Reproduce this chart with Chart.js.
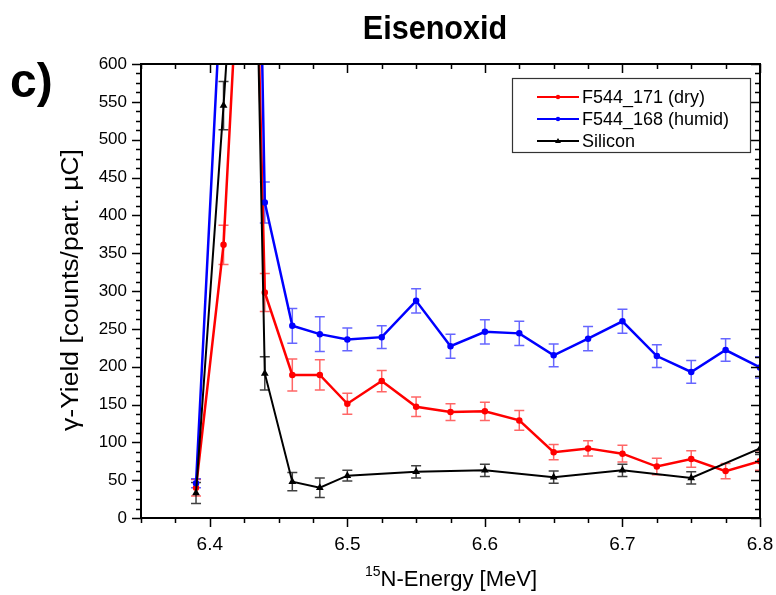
<!DOCTYPE html>
<html>
<head>
<meta charset="utf-8">
<script src="https://cdn.jsdelivr.net/npm/chart.js@4.4.1/dist/chart.umd.min.js"></script>
<style>
  html, body { margin: 0; padding: 0; background: #fff; }
  #wrap { width: 776px; height: 595px; }
</style>
</head>
<body>
<div id="wrap"><canvas id="yieldChart" width="776" height="595"></canvas></div>
<script>
// --- DATA ---
const dryEnergy = [6.39, 6.41, 6.43, 6.44, 6.46, 6.48, 6.50, 6.525, 6.55, 6.575, 6.60, 6.625, 6.65, 6.675, 6.70, 6.725, 6.75, 6.775, 6.80];
const dryYield  = [40, 361, 1050, 298, 189, 189, 151, 181, 147, 140, 141, 129, 87, 92, 85, 68, 78, 62, 75];
const dryErr    = [11, 26, 40, 25, 21, 20, 14, 14, 13, 11, 12, 13, 10, 10, 11, 11, 11, 10, 12];

const humidEnergy = [6.39, 6.41, 6.43, 6.44, 6.46, 6.48, 6.50, 6.525, 6.55, 6.575, 6.60, 6.625, 6.65, 6.675, 6.70, 6.725, 6.75, 6.775, 6.80];
const humidYield  = [46, 760, 1400, 417, 254, 243, 236, 239, 287, 227, 246, 244, 215, 237, 260, 214, 193, 222, 199];
const humidErr    = [6, 40, 60, 27, 23, 23, 15, 15, 16, 16, 16, 16, 15, 16, 16, 15, 15, 15, 14];

const siliconEnergy = [6.39, 6.41, 6.43, 6.44, 6.46, 6.48, 6.50, 6.55, 6.60, 6.65, 6.70, 6.75, 6.80];
const siliconYield  = [33, 545, 1100, 191, 48, 40, 56, 61, 63, 54, 63, 53, 92];
const siliconErr    = [14, 32, 40, 22, 12, 13, 7, 8, 8, 8, 8, 8, 8];

const seriesNames = ['F544_171 (dry)', 'F544_168 (humid)', 'Silicon'];
const xTicks = [6.4, 6.5, 6.6, 6.7, 6.8];
const yTicks = [0, 50, 100, 150, 200, 250, 300, 350, 400, 450, 500, 550, 600];
const xMinorStep = 0.025;
const yMinorStep = 12.5;

const FONT = '"Liberation Sans", Arial, Helvetica, sans-serif';

function toPoints(xs, ys) {
    return xs.map((x, i) => ({ x: x, y: ys[i] }));
}

// --- ERROR BARS, FRAME, TICKS, LABELS, LEGEND ---
const decorPlugin = {
    id: 'decor',
    beforeDatasetsDraw(chart) {
        const { ctx, chartArea: a, scales: { x, y } } = chart;
        const errs = [dryErr, humidErr, siliconErr];
        const cols = ['rgba(255,0,0,0.6)', 'rgba(0,0,255,0.6)', 'rgba(0,0,0,0.75)'];
        ctx.save();
        ctx.beginPath();
        ctx.rect(a.left, a.top, a.right - a.left, a.bottom - a.top);
        ctx.clip();
        chart.data.datasets.forEach((ds, di) => {
            ctx.strokeStyle = cols[di];
            ctx.lineWidth = 1.5;
            ds.data.forEach((p, i) => {
                const px = x.getPixelForValue(p.x);
                const top = y.getPixelForValue(p.y + errs[di][i]);
                const bot = y.getPixelForValue(p.y - errs[di][i]);
                ctx.beginPath();
                ctx.moveTo(px, top); ctx.lineTo(px, bot);
                ctx.moveTo(px - 5, top); ctx.lineTo(px + 5, top);
                ctx.moveTo(px - 5, bot); ctx.lineTo(px + 5, bot);
                ctx.stroke();
            });
        });
        ctx.restore();
    },
    afterDraw(chart) {
        const { ctx, chartArea: a, scales: { x, y } } = chart;
        ctx.save();

        // frame
        ctx.strokeStyle = '#000';
        ctx.lineWidth = 2;
        ctx.strokeRect(a.left, a.top, a.right - a.left, a.bottom - a.top);

        // ticks: outward on bottom/left, inward on top/right
        ctx.lineWidth = 1.5;
        ctx.beginPath();
        for (let v = x.min; v <= x.max + 1e-9; v += xMinorStep) {
            const major = xTicks.some(t => Math.abs(t - v) < 1e-6);
            const len = major ? 9 : 5;
            const px = Math.round(x.getPixelForValue(v)) + 0.5;
            ctx.moveTo(px, a.bottom); ctx.lineTo(px, a.bottom + len);
            ctx.moveTo(px, a.top); ctx.lineTo(px, a.top + len);
        }
        for (let v = y.min; v <= y.max + 1e-9; v += yMinorStep) {
            const major = yTicks.some(t => Math.abs(t - v) < 1e-6);
            const len = major ? 9 : 5;
            const py = Math.round(y.getPixelForValue(v)) + 0.5;
            ctx.moveTo(a.left, py); ctx.lineTo(a.left - len, py);
            ctx.moveTo(a.right, py); ctx.lineTo(a.right - len, py);
        }
        ctx.stroke();

        // title and panel letter
        ctx.fillStyle = '#000';
        ctx.textBaseline = 'alphabetic';
        ctx.save();
        ctx.translate(435, 39);
        ctx.scale(0.9, 1);
        ctx.font = 'bold 34px ' + FONT;
        ctx.textAlign = 'center';
        ctx.fillText('Eisenoxid', 0, 0);
        ctx.restore();

        ctx.font = 'bold 48px ' + FONT;
        ctx.textAlign = 'left';
        ctx.fillText('c)', 10, 97);

        // x axis title with superscript mass number
        const main = 'N-Energy [MeV]';
        ctx.font = '14px ' + FONT;
        const supW = ctx.measureText('15').width;
        ctx.font = '22px ' + FONT;
        const mainW = ctx.measureText(main).width;
        const startX = 451 - (supW + mainW) / 2;
        ctx.fillText(main, startX + supW, 586);
        ctx.font = '14px ' + FONT;
        ctx.fillText('15', startX, 576);

        // y axis title (slightly stretched along its run)
        ctx.save();
        ctx.translate(78, 290);
        ctx.rotate(-Math.PI / 2);
        ctx.scale(1.15, 1);
        ctx.font = '23px ' + FONT;
        ctx.textAlign = 'center';
        ctx.fillText('\u03b3-Yield [counts/part. \u00b5C]', 0, 0);
        ctx.restore();

        // legend
        const lx = 512, ly = 78, lw = 238, lh = 74;
        ctx.fillStyle = '#fff';
        ctx.fillRect(lx, ly, lw, lh);
        ctx.strokeStyle = '#333';
        ctx.lineWidth = 1.2;
        ctx.strokeRect(lx + 0.5, ly + 0.5, lw, lh);
        chart.data.datasets.forEach((ds, i) => {
            const ry = 97 + i * 22;
            ctx.strokeStyle = ds.borderColor;
            ctx.lineWidth = 2;
            ctx.beginPath();
            ctx.moveTo(537, ry); ctx.lineTo(579, ry);
            ctx.stroke();
            ctx.fillStyle = ds.borderColor;
            ctx.beginPath();
            if (ds.pointStyle === 'triangle') {
                ctx.moveTo(558, ry - 3); ctx.lineTo(561, ry + 2); ctx.lineTo(555, ry + 2);
                ctx.closePath();
            } else {
                ctx.arc(558, ry, 2.2, 0, Math.PI * 2);
            }
            ctx.fill();
            ctx.fillStyle = '#000';
            ctx.font = '18px ' + FONT;
            ctx.textAlign = 'left';
            ctx.textBaseline = 'middle';
            ctx.fillText(seriesNames[i], 582, ry + 1);
        });
        ctx.restore();
    }
};

// --- CHART ---
const chart = new Chart(document.getElementById('yieldChart'), {
    type: 'line',
    data: {
        datasets: [
            {
                label: seriesNames[0], data: toPoints(dryEnergy, dryYield),
                borderColor: '#ff0000', backgroundColor: '#ff0000',
                borderWidth: 2.5, pointRadius: 2, pointStyle: 'circle', order: 2,
            },
            {
                label: seriesNames[1], data: toPoints(humidEnergy, humidYield),
                borderColor: '#0000ff', backgroundColor: '#0000ff',
                borderWidth: 2.5, pointRadius: 2, pointStyle: 'circle', order: 1,
            },
            {
                label: seriesNames[2], data: toPoints(siliconEnergy, siliconYield),
                borderColor: '#000000', backgroundColor: '#000000',
                borderWidth: 2, pointRadius: 2.5, pointStyle: 'triangle', order: 0,
            },
        ],
    },
    options: {
        responsive: false,
        devicePixelRatio: 1,
        animation: false,
        layout: { padding: { left: 0, right: 16, top: 64, bottom: 0 } },
        plugins: { legend: { display: false }, tooltip: { enabled: false }, title: { display: false } },
        elements: { line: { tension: 0 }, point: { borderWidth: 0, hoverRadius: 3 } },
        scales: {
            x: {
                type: 'linear', min: 6.35, max: 6.8,
                grid: { display: false, drawTicks: false },
                border: { display: false },
                afterBuildTicks: s => { s.ticks = xTicks.map(v => ({ value: v })); },
                afterFit: s => { s.height = 77; s.paddingLeft = 0; s.paddingRight = 0; },
                ticks: {
                    padding: 15, color: '#000',
                    font: { family: FONT, size: 19 },
                    callback: v => Number(v).toFixed(1),
                },
            },
            y: {
                min: 0, max: 600,
                grid: { display: false, drawTicks: false },
                border: { display: false },
                afterBuildTicks: s => { s.ticks = yTicks.map(v => ({ value: v })); },
                afterFit: s => { s.width = 141; s.paddingTop = 0; s.paddingBottom = 0; },
                ticks: {
                    padding: 14, color: '#000',
                    font: { family: FONT, size: 17 },
                },
            },
        },
    },
    plugins: [decorPlugin],
});
</script>
</body>
</html>
